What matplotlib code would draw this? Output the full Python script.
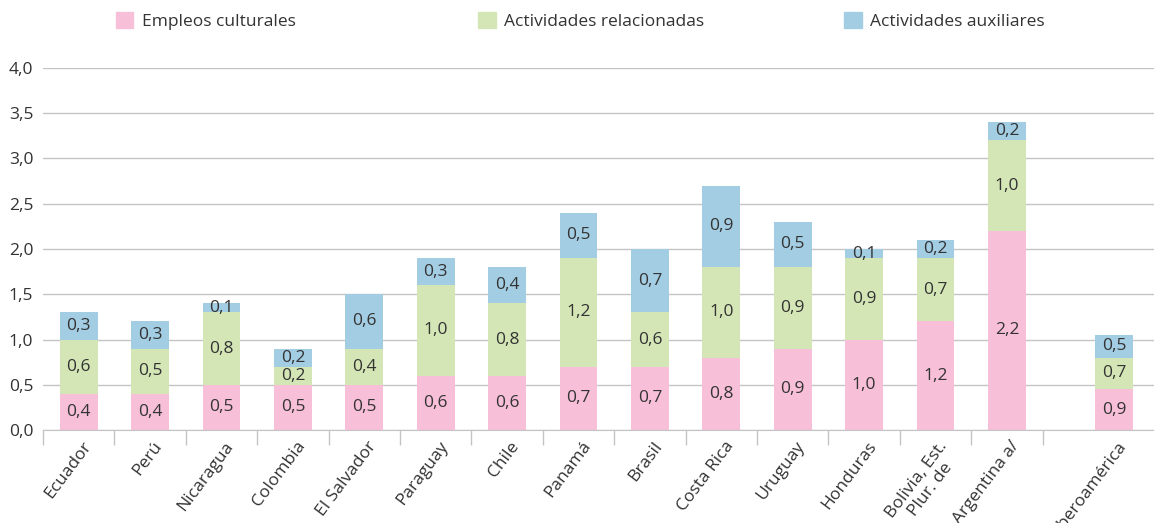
import numpy as np
import matplotlib
matplotlib.use('Agg')
import matplotlib.pyplot as plt
from matplotlib.patches import Patch

plt.rcParams['font.family'] = ['Open Sans', 'DejaVu Sans']
fonts = 12.5
txt_col = '#333333'

# data (bar heights, labels as printed)
paises = ['Ecuador', 'Perú', 'Nicaragua', 'Colombia', 'El Salvador', 'Paraguay',
          'Chile', 'Panamá', 'Brasil', 'Costa Rica', 'Uruguay', 'Honduras',
          'Bolivia, Est.\nPlur. de', 'Argentina a/', 'Iberoamérica']
empleos     = [0.4, 0.4, 0.5, 0.5, 0.5, 0.6, 0.6, 0.7, 0.7, 0.8, 0.9, 1.0, 1.2, 2.2, 0.45]
relacionadas = [0.6, 0.5, 0.8, 0.2, 0.4, 1.0, 0.8, 1.2, 0.6, 1.0, 0.9, 0.9, 0.7, 1.0, 0.35]
auxiliares  = [0.3, 0.3, 0.1, 0.2, 0.6, 0.3, 0.4, 0.5, 0.7, 0.9, 0.5, 0.1, 0.2, 0.2, 0.25]
lab_empleos = [0.4, 0.4, 0.5, 0.5, 0.5, 0.6, 0.6, 0.7, 0.7, 0.8, 0.9, 1.0, 1.2, 2.2, 0.9]
lab_relac   = [0.6, 0.5, 0.8, 0.2, 0.4, 1.0, 0.8, 1.2, 0.6, 1.0, 0.9, 0.9, 0.7, 1.0, 0.7]
lab_aux     = [0.3, 0.3, 0.1, 0.2, 0.6, 0.3, 0.4, 0.5, 0.7, 0.9, 0.5, 0.1, 0.2, 0.2, 0.5]
series_names = ['Empleos culturales', 'Actividades relacionadas', 'Actividades auxiliares']
colores = ['#F7BFD8', '#D4E6B5', '#A3CDE3']

x = np.arange(len(paises), dtype=float)
x[-1] = 14.5   # Iberoamérica sits apart

fig = plt.figure(figsize=(11.54, 5.23), dpi=100)
ax = fig.add_axes([0.0373, 0.1778, 1 - 0.0373, 0.87 - 0.1778])

w = 0.53
bottom = np.zeros(len(paises))
for vals, labs, c in zip([empleos, relacionadas, auxiliares],
                         [lab_empleos, lab_relac, lab_aux], colores):
    vals = np.array(vals)
    ax.bar(x, vals, w, bottom=bottom, color=c, zorder=3)
    for xi, b, v, l in zip(x, bottom, vals, labs):
        ax.text(xi, b + v / 2, f'{l:.1f}'.replace('.', ','), ha='center', va='center',
                fontsize=fonts, color=txt_col, zorder=4)
    bottom += vals

ax.set_ylim(0, 4.0)
ax.set_xlim(-0.5, 15.06)
yt = np.arange(0, 4.01, 0.5)
ax.set_yticks(yt)
ax.set_yticklabels([f'{v:.1f}'.replace('.', ',') for v in yt], fontsize=fonts, color=txt_col)
ax.tick_params(axis='y', length=0, pad=7)
ax.yaxis.grid(True, color='#C4C4C4', linewidth=1.0, zorder=0)

# category separators as major ticks, names as minor ticks
ax.set_xticks(np.arange(-0.5, 13.6, 1.0))
ax.set_xticklabels([])
ax.tick_params(axis='x', which='major', length=11, color='#C4C4C4', width=1)
ax.set_xticks(x, minor=True)
ax.set_xticklabels(paises, minor=True, rotation=53, ha='right', va='top',
                   rotation_mode='anchor', fontsize=fonts, color=txt_col,
                   multialignment='center', linespacing=1.05)
ax.tick_params(axis='x', which='minor', length=0, pad=6)
for lb in ax.get_xticklabels(minor=True):
    lb.set_transform(lb.get_transform() + matplotlib.transforms.ScaledTranslation(2/72, 0, fig.dpi_scale_trans))

for s in ['top', 'right', 'left']:
    ax.spines[s].set_visible(False)
ax.spines['bottom'].set_color('#C4C4C4')
ax.spines['bottom'].set_zorder(5)

# legend entries placed one by one along the top
for name, c, xpos in zip(series_names, colores, [0.087, 0.401, 0.718]):
    fig.legend(handles=[Patch(color=c)], labels=[name], loc='center left',
               bbox_to_anchor=(xpos, 0.96), frameon=False, fontsize=fonts,
               handlelength=1.0, handleheight=1.0, handletextpad=0.5,
               labelcolor=txt_col)

plt.savefig('out.png', dpi=100)
